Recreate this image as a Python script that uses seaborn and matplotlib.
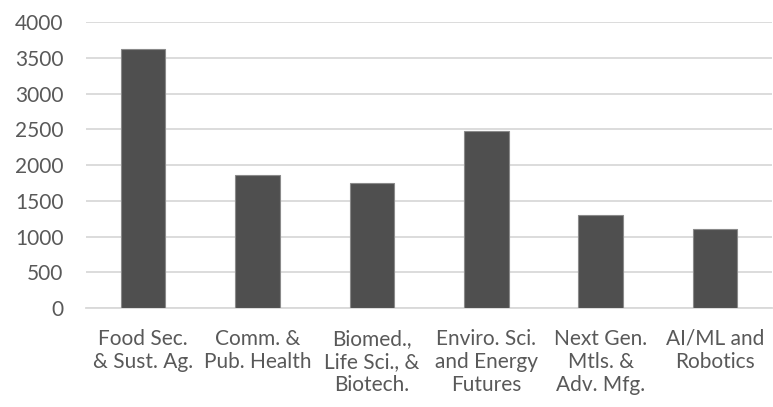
import matplotlib
matplotlib.use("Agg")
import matplotlib.pyplot as plt
import seaborn as sns
import pandas as pd

categories = ["Food Sec.\n& Sust. Ag.", "Comm. &\nPub. Health", "Biomed.,\nLife Sci., &\nBiotech.",
              "Enviro. Sci.\nand Energy\nFutures", "Next Gen.\nMtls. &\nAdv. Mfg.", "AI/ML and\nRobotics"]
values = [3620, 1860, 1750, 2480, 1300, 1100]
yticks = [0, 500, 1000, 1500, 2000, 2500, 3000, 3500, 4000]

sns.set_style("white")
plt.rcParams['font.family'] = ['Lato', 'DejaVu Sans']

df = pd.DataFrame({"cat": categories, "val": values})
fig = plt.figure(figsize=(7.73, 4.07), dpi=100)
ax = fig.add_axes([0.111, 0.243, 0.888, 0.703])
sns.barplot(data=df, x="cat", y="val", color="#4f4f4f", saturation=1, width=0.39,
            edgecolor="#8a8a8a", linewidth=0.8, ax=ax, zorder=3)
ax.set_ylim(0, 4000)
ax.set_yticks(yticks)
ax.set_yticklabels([str(t) for t in yticks])
ax.yaxis.grid(True, color="#d9d9d9", linewidth=1.3, zorder=0)
ax.set_axisbelow(True)
for s in ["top", "right", "left"]:
    ax.spines[s].set_visible(False)
ax.spines["bottom"].set_color("#d9d9d9")
ax.spines["bottom"].set_linewidth(1.3)
ax.set_xlabel("")
ax.set_ylabel("")
ax.tick_params(axis="both", length=0, labelsize=15, colors="#595959")
ax.tick_params(axis="y", pad=16)
ax.tick_params(axis="x", pad=15)
for lab in ax.get_xticklabels():
    lab.set_linespacing(1.2)
    lab.set_ha("center")
fig.savefig("out.png", dpi=100)
